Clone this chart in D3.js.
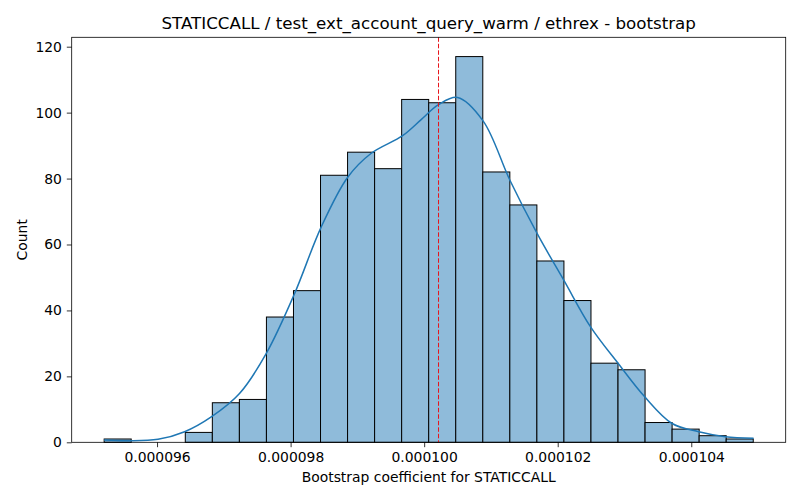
<!DOCTYPE html>
<html>
<head>
<meta charset="utf-8">
<script src="https://cdn.jsdelivr.net/npm/d3@7"></script>
<style>
  body { margin: 0; background: #fff; }
  text { font-family: "DejaVu Sans", sans-serif; fill: #000; }
</style>
</head>
<body>
<script>
// bin counts, left to right (values in units of 1e-6)
var binStart = 95.208;
var binWidth = 0.405;
var counts = [1, 0, 0, 3, 12, 13, 38, 46, 81, 88, 83, 104, 103, 117, 82, 72, 55, 43, 24, 22, 6, 4, 2, 1];

// kde curve (x in 1e-6, y in counts)
var kdeX = [95.208, 95.567, 96.015, 96.413, 96.812, 97.235, 97.634, 98.057, 98.456, 98.855,
            99.203, 99.677, 99.951, 100.215, 100.499, 100.882, 101.286, 101.695, 102.093,
            102.492, 102.906, 103.303, 103.713, 104.111, 104.510, 104.933];
var kdeY = [0.7, 0.5, 0.9, 3.2, 7.7, 14.8, 26.9, 45, 65.2, 80.4,
            87.6, 93, 97.8, 102.4, 104.6, 97.5, 79.4, 63.2, 49.1,
            35, 23.9, 13.8, 5.7, 3.2, 1.7, 1.2];

var meanLine = 100.215;
var xTicks = [96, 98, 100, 102, 104];
var yTicks = [0, 20, 40, 60, 80, 100, 120];

var margin = {top: 37.3, right: 14.3, bottom: 57.7, left: 71.7},
    width = 800 - margin.left - margin.right,
    height = 500 - margin.top - margin.bottom;

var binEnd = binStart + counts.length * binWidth;
var pad = (binEnd - binStart) * 0.05;

var x = d3.scaleLinear().domain([binStart - pad, binEnd + pad]).range([0, width]);
var y = d3.scaleLinear().domain([0, d3.max(counts) * 1.05]).range([height, 0]);

var svg = d3.select("body").append("svg")
    .attr("width", 800)
    .attr("height", 500);

var g = svg.append("g")
    .attr("transform", "translate(" + margin.left + "," + margin.top + ")");

var bins = counts.map(function(c, i) {
    return {x0: binStart + i * binWidth, x1: binStart + (i + 1) * binWidth, n: c};
});

// bars
g.selectAll(".bar")
    .data(bins.filter(function(d) { return d.n > 0; }))
    .enter().append("rect")
    .attr("class", "bar")
    .attr("x", function(d) { return x(d.x0); })
    .attr("y", function(d) { return y(d.n); })
    .attr("width", function(d) { return x(d.x1) - x(d.x0); })
    .attr("height", function(d) { return y(0) - y(d.n); })
    .attr("fill", "#8fbbda")
    .attr("stroke", "#000")
    .attr("stroke-width", 1);

// kde
var line = d3.line()
    .x(function(d, i) { return x(kdeX[i]); })
    .y(function(d) { return y(d); })
    .curve(d3.curveCatmullRom);

g.append("path")
    .datum(kdeY)
    .attr("d", line)
    .attr("fill", "none")
    .attr("stroke", "#1f77b4")
    .attr("stroke-width", 1.5);

// dashed reference line
g.append("line")
    .attr("x1", x(meanLine)).attr("x2", x(meanLine))
    .attr("y1", 0).attr("y2", height)
    .attr("stroke", "#e8141a")
    .attr("stroke-width", 1)
    .attr("stroke-dasharray", "4.5,2");

// axes
var xAxis = g.append("g")
    .attr("transform", "translate(0," + height + ")")
    .call(d3.axisBottom(x).tickValues(xTicks).tickSize(4.9).tickPadding(4.9)
        .tickFormat(function(d) { return d3.format(".6f")(d * 1e-6); }));

var yAxis = g.append("g")
    .call(d3.axisLeft(y).tickValues(yTicks).tickSize(4.9).tickPadding(4.9));

[xAxis, yAxis].forEach(function(a) {
    a.select(".domain").remove();
    a.selectAll("text").style("font-size", "13.9px").attr("font-family", null);
    a.selectAll("line").attr("stroke", "#000").attr("stroke-width", 0.8);
});

// frame
g.append("rect")
    .attr("width", width).attr("height", height)
    .attr("fill", "none")
    .attr("stroke", "#000")
    .attr("stroke-width", 0.8);

// labels
svg.append("text")
    .attr("x", margin.left + width / 2)
    .attr("y", 29)
    .attr("text-anchor", "middle")
    .style("font-size", "16.7px")
    .text("STATICCALL / test_ext_account_query_warm / ethrex - bootstrap");

svg.append("text")
    .attr("x", margin.left + width / 2)
    .attr("y", 482)
    .attr("text-anchor", "middle")
    .style("font-size", "13.9px")
    .text("Bootstrap coefficient for STATICCALL");

svg.append("text")
    .attr("transform", "translate(27," + (margin.top + height / 2) + ") rotate(-90)")
    .attr("text-anchor", "middle")
    .style("font-size", "13.9px")
    .text("Count");
</script>
</body>
</html>
